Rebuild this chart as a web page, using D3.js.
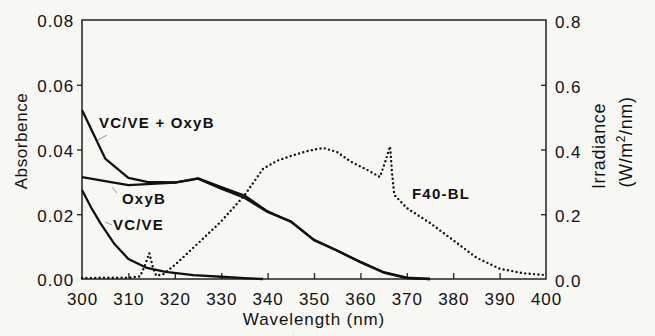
<!DOCTYPE html>
<html><head><meta charset="utf-8">
<script src="https://cdn.jsdelivr.net/npm/d3@7"></script>
<style>
body{margin:0;background:#f7f7f4;}
svg{display:block;font-family:"Liberation Sans",Arial,Helvetica,sans-serif;}
</style></head><body>
<svg id="c" width="655" height="336"></svg>
<script>
// Wavelength (nm) / absorbance for each sample
const comboWl  = [300, 305, 310, 314, 320, 325, 330, 335, 340, 345, 350, 355, 360, 365, 370, 375];
const comboAbs = [0.0522, 0.0372, 0.0312, 0.0300, 0.0298, 0.0310, 0.0279, 0.0251, 0.0207, 0.0178, 0.0120, 0.0088, 0.0052, 0.0020, 0.0003, 0.0];
const oxyWl  = [300, 305, 310, 315, 320, 325, 330, 335, 340, 345, 350, 355, 360, 365, 370, 375];
const oxyAbs = [0.0315, 0.0302, 0.0290, 0.0294, 0.0298, 0.0311, 0.0284, 0.0258, 0.0209, 0.0177, 0.0121, 0.0087, 0.0053, 0.0021, 0.0004, 0.0];
const vcWl  = [300, 302, 304, 307, 310, 314, 318, 324, 330, 335, 339];
const vcAbs = [0.0275, 0.0220, 0.0172, 0.0108, 0.0062, 0.0034, 0.0022, 0.0012, 0.0007, 0.0003, 0.0];
// F40-BL lamp irradiance (W/m2/nm)
const lampWl  = [300, 305, 310, 312.5, 313.5, 314.5, 315.2, 316, 317.5, 320, 325, 330, 335, 339, 342, 345, 348.5, 352, 355, 358, 362, 364.2, 365.3, 366.4, 366.8, 367.3, 370, 375, 380, 385, 390, 395, 400];
const lampIrr = [0.003, 0.004, 0.004, 0.008, 0.04, 0.08, 0.04, 0.01, 0.015, 0.043, 0.11, 0.178, 0.258, 0.340, 0.365, 0.380, 0.395, 0.405, 0.392, 0.362, 0.333, 0.315, 0.36, 0.41, 0.33, 0.26, 0.219, 0.173, 0.12, 0.066, 0.032, 0.018, 0.012];
const xTicks = [300, 310, 320, 330, 340, 350, 360, 370, 380, 390, 400];
const yLeftTicks = [0.00, 0.02, 0.04, 0.06, 0.08];
const yRightTicks = [0.0, 0.2, 0.4, 0.6, 0.8];
const labels = ["VC/VE + OxyB", "OxyB", "VC/VE", "F40-BL"];

const svg = d3.select("#c");
const L = 82, R = 546, T = 20, B = 279;
const x = d3.scaleLinear().domain([300, 400]).range([L, R]);
const yA = d3.scaleLinear().domain([0, 0.08]).range([B, T]);
const yI = d3.scaleLinear().domain([0, 0.8]).range([B, T]);

// Bottom axis (ticks inward)
const gx = svg.append("g").attr("transform", `translate(0,${B})`)
  .call(d3.axisBottom(x).tickValues(xTicks).tickSize(-6).tickPadding(14).tickFormat(d3.format("d")));
// Left axis (ticks outward)
const gl = svg.append("g").attr("transform", `translate(${L},0)`)
  .call(d3.axisLeft(yA).tickValues(yLeftTicks).tickSize(5).tickPadding(3).tickFormat(d3.format(".2f")));
// Right axis (ticks inward)
const gr = svg.append("g").attr("transform", `translate(${R},0)`)
  .call(d3.axisRight(yI).tickValues(yRightTicks).tickSize(-5).tickPadding(9).tickFormat(d3.format(".1f")));
[gx, gl, gr].forEach(g => {
  g.select(".domain").remove();
  g.selectAll("line").attr("stroke", "#222").attr("stroke-width", 1.3);
  g.selectAll("text").attr("fill", "#111").style("font-size", "17px").style("letter-spacing", "0.9px")
    .style("font-family", "'Liberation Sans',Arial,sans-serif");
});
gx.selectAll(".tick").filter(d => d === 300 || d === 400).select("line").remove();
gl.selectAll(".tick").filter(d => d === 0 || d === 0.08).select("line").remove();
gr.selectAll(".tick").filter(d => d === 0 || d === 0.8).select("line").remove();
gl.selectAll(".tick text").attr("dy", "0.4em");
gr.selectAll(".tick text").attr("dy", "0.45em");

// Frame
svg.append("rect").attr("x", L).attr("y", T).attr("width", R - L).attr("height", B - T)
  .attr("fill", "none").attr("stroke", "#222").attr("stroke-width", 1.5);

// Curves
const lineA = d3.line().x(d => x(d[0])).y(d => yA(d[1]));
const lineI = d3.line().x(d => x(d[0])).y(d => yI(d[1]));
const draw = (wl, v, gen) => svg.append("path").datum(wl.map((w, i) => [w, v[i]]))
  .attr("d", gen).attr("fill", "none").attr("stroke", "#111").attr("stroke-linejoin", "round");

draw(lampWl, lampIrr, lineI).attr("stroke-width", 2.4).attr("stroke-linecap", "round").attr("stroke-dasharray", "0,4.4");
draw(oxyWl, oxyAbs, lineA).attr("stroke-width", 2.3);
draw(comboWl, comboAbs, lineA).attr("stroke-width", 2.3);
draw(vcWl, vcAbs, lineA).attr("stroke-width", 2.3);

// Labels
const lab = [
  {t: labels[0], x: 99, y: 128},
  {t: labels[1], x: 122, y: 204},
  {t: labels[2], x: 113, y: 230},
  {t: labels[3], x: 412, y: 199}
];
svg.selectAll("text.lab").data(lab).join("text").attr("class", "lab")
  .attr("x", d => d.x).attr("y", d => d.y).text(d => d.t)
  .attr("font-weight", "bold").attr("font-size", "15px").attr("letter-spacing", "1.2px").attr("fill", "#111");

// Faint leader lines
const leaders = [[98, 140, 107, 135], [112, 187, 117, 193], [105, 222, 112, 225]];
svg.selectAll("line.lead").data(leaders).join("line").attr("class", "lead")
  .attr("x1", d => d[0]).attr("y1", d => d[1]).attr("x2", d => d[2]).attr("y2", d => d[3])
  .attr("stroke", "#999").attr("stroke-width", 1);

// Axis titles
svg.append("text").attr("x", (L + R) / 2).attr("y", 325).attr("text-anchor", "middle")
  .attr("font-size", "17px").attr("letter-spacing", "0.9px").attr("fill", "#111").text("Wavelength (nm)");
svg.append("text").attr("transform", "translate(27,141) rotate(-90)").attr("text-anchor", "middle")
  .attr("font-size", "17px").attr("letter-spacing", "0.6px").attr("fill", "#111").text("Absorbence");
svg.append("text").attr("transform", "translate(605,146) rotate(-90)").attr("text-anchor", "middle")
  .attr("font-size", "18px").attr("letter-spacing", "0.6px").attr("fill", "#111").text("Irradiance");
const t2 = svg.append("text").attr("transform", "translate(632,142) rotate(-90)").attr("text-anchor", "middle")
  .attr("font-size", "18px").attr("letter-spacing", "0.6px").attr("fill", "#111");
t2.append("tspan").text("(W/m");
t2.append("tspan").text("2").attr("font-size", "12px").attr("dy", "-0.6em");
t2.append("tspan").text("/nm)").attr("dy", "0.4em");
</script>
</body></html>
